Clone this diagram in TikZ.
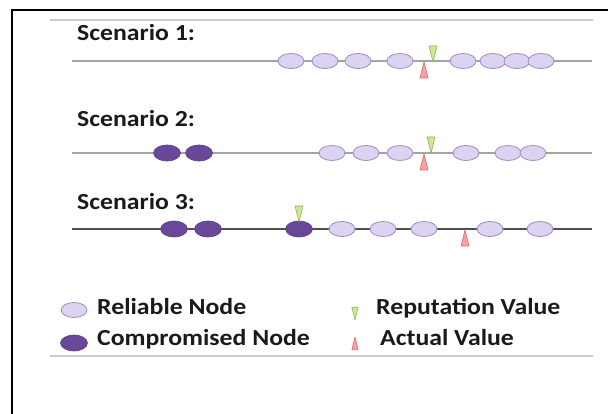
\documentclass[tikz,border=0pt]{standalone}
\usepackage{fontspec}
\setmainfont{Carlito}[FakeStretch=1.12]
\usetikzlibrary{shapes.geometric}
\definecolor{relfill}{HTML}{DCD3F0}
\definecolor{reldraw}{HTML}{A08AC8}
\definecolor{compfill}{HTML}{6A4899}
\definecolor{compdraw}{HTML}{5A3C88}
\definecolor{grnfill}{HTML}{CBE79C}
\definecolor{grndraw}{HTML}{8CB84A}
\definecolor{redfill}{HTML}{F3A3A3}
\definecolor{reddraw}{HTML}{DD6666}
\definecolor{axisgray}{HTML}{A4A4A4}
\definecolor{axisdark}{HTML}{505050}
\definecolor{rulegray}{HTML}{CDCDCD}
\definecolor{txt}{HTML}{1A1A1A}
\tikzset{
  rel/.style={ellipse, minimum width=26pt, minimum height=15pt, inner sep=0pt, fill=relfill, draw=reldraw, line width=0.8pt},
  comp/.style={ellipse, minimum width=27pt, minimum height=16pt, inner sep=0pt, fill=compfill, draw=compdraw, line width=0.6pt},
  lbl/.style={anchor=base west, inner sep=0pt, font=\fontsize{23}{27}\selectfont\bfseries, text=txt},
  axisline/.style={draw=axisgray, line width=1.4pt},
  axisdarkline/.style={draw=axisdark, line width=1.4pt},
  rule/.style={draw=rulegray, line width=2pt},
  repval/.pic={\draw[fill=grnfill, draw=grndraw, line width=0.6pt, line join=round] (0,0) -- (-4,-16) -- (4,-16) -- cycle;},
  actval/.pic={\draw[fill=redfill, draw=reddraw, line width=0.6pt, line join=round] (0,0) -- (-4,16) -- (4,16) -- cycle;}
}
\begin{document}
\begin{tikzpicture}[x=1pt,y=-1pt]
\useasboundingbox (0,0) rectangle (608,414);
% frame
\coordinate (fa) at (12,414);
\coordinate (fb) at (12,10.5);
\coordinate (fc) at (608,10.5);
\draw[black, line width=2pt] (fa) -- (fb) -- (fc);
% rules
\coordinate (ra) at (50,20);
\coordinate (rb) at (593,20);
\draw[rule] (ra) -- (rb);
\coordinate (rc) at (50,356);
\coordinate (rd) at (593,356);
\draw[rule] (rc) -- (rd);

% Scenario 1
\node[lbl] (t1) at (77,41) {Scenario 1:};
\coordinate (l1a) at (72,61);
\coordinate (l1b) at (592,61);
\draw[axisline] (l1a) -- (l1b);
\foreach \x [count=\i] in {291,325,358,400,463,493,517,541}
  \node[rel] (s1n\i) at (\x,61) {};
\pic (s1g) at (433,62) {repval};
\pic (s1r) at (424,62) {actval};

% Scenario 2
\node[lbl] (t2) at (77,127) {Scenario 2:};
\coordinate (l2a) at (72,153);
\coordinate (l2b) at (592,153);
\draw[axisline] (l2a) -- (l2b);
\node[comp] (s2c1) at (167,153) {};
\node[comp] (s2c2) at (199,153) {};
\foreach \x [count=\i] in {332,366,400,466,508,533}
  \node[rel] (s2n\i) at (\x,153) {};
\pic (s2g) at (431,153) {repval};
\pic (s2r) at (424,154) {actval};

% Scenario 3
\node[lbl] (t3) at (77,210) {Scenario 3:};
\coordinate (l3a) at (72,229);
\coordinate (l3b) at (592,229);
\draw[axisdarkline] (l3a) -- (l3b);
\node[comp] (s3c1) at (174,229) {};
\node[comp] (s3c2) at (208,229) {};
\node[comp] (s3c3) at (299,229) {};
\foreach \x [count=\i] in {342,383,424,490,540}
  \node[rel] (s3n\i) at (\x,229) {};
\pic (s3g) at (299,222) {repval};
\pic (s3r) at (465,230) {actval};

% Legend
\node[rel] (kr) at (74,310) {};
\node[comp] (kc) at (74,343) {};
\node[lbl] (krt) at (97,314) {Reliable Node};
\node[lbl] (kct) at (97,345) {Compromised Node};
\pic[scale=0.8] (kg) at (355,320) {repval};
\pic[scale=0.8] (ka) at (355,337) {actval};
\node[lbl] (kgt) at (376,314) {Reputation Value};
\node[lbl] (kat) at (380,345) {Actual Value};
\end{tikzpicture}
\end{document}
